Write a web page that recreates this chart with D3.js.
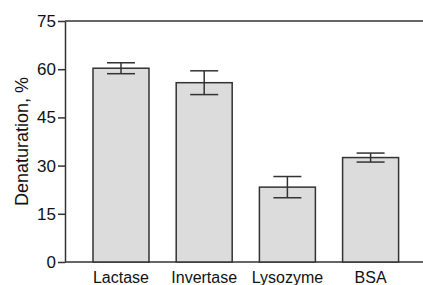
<!DOCTYPE html>
<html><head><meta charset="utf-8">
<script src="https://cdn.jsdelivr.net/npm/d3@7"></script>
<style>body{margin:0;background:#fff}svg{display:block}text{font-family:"Liberation Sans",Arial,sans-serif;fill:#111}</style>
</head><body>
<svg id="c" width="423" height="285"></svg>
<script>
const categories = ["Lactase","Invertase","Lysozyme","BSA"];
const values = [60.3, 55.8, 23.3, 32.5];
const errors = [1.7, 3.7, 3.3, 1.4];
const yTicks = [0, 15, 30, 45, 60, 75];

(function(){
const svg = d3.select("#c");
const mLeft = 65, mTop = 21, mBottom = 262;
const step = 83.2, pIn = 0.327, pOut = pIn/2;
const x0 = 93 - pOut*step;
const x = d3.scaleBand().domain(categories)
  .range([x0, x0 + step*(categories.length - pIn + 2*pOut)])
  .paddingInner(pIn).paddingOuter(pOut);
const y = d3.scaleLinear().domain([0,75]).range([mBottom, mTop]);

const ink = "#333";
const ya = svg.append("g").attr("transform",`translate(${mLeft},0)`)
  .call(d3.axisLeft(y).tickValues(yTicks).tickSize(7).tickPadding(2).tickSizeOuter(0));
ya.select(".domain").attr("stroke",ink).attr("stroke-width",1.5);
ya.selectAll(".tick line").attr("stroke",ink).attr("stroke-width",1.5);
ya.selectAll(".tick text").style("font-size","17px").style("font-family",'"Liberation Sans",Arial,sans-serif').attr("fill","#111");

[75, 0].forEach(v => svg.append("line").attr("x1",mLeft).attr("x2",423)
  .attr("y1",y(v)).attr("y2",y(v)).attr("stroke",ink).attr("stroke-width",1.5));

svg.selectAll("rect.bar").data(categories).join("rect").attr("class","bar")
  .attr("x",d=>x(d)).attr("width",x.bandwidth())
  .attr("y",(d,i)=>y(values[i])).attr("height",(d,i)=>y(0)-y(values[i]))
  .attr("fill","#dcdcdc").attr("stroke",ink).attr("stroke-width",1.5);

const cap = x.bandwidth()/2;
categories.forEach((c,i)=>{
  const cx = x(c)+x.bandwidth()/2;
  const g = svg.append("g").attr("stroke",ink).attr("stroke-width",1.5);
  g.append("line").attr("x1",cx).attr("x2",cx).attr("y1",y(values[i]+errors[i])).attr("y2",y(values[i]-errors[i]));
  [values[i]+errors[i], values[i]-errors[i]].forEach(v=>
    g.append("line").attr("x1",cx-cap/2).attr("x2",cx+cap/2).attr("y1",y(v)).attr("y2",y(v)));
});

svg.selectAll("text.xl").data(categories).join("text").attr("class","xl")
  .attr("x",d=>x(d)+x.bandwidth()/2).attr("y",283).attr("text-anchor","middle")
  .style("font-size","16px").text(d=>d);

svg.append("text").attr("transform",`translate(28,${(mTop+mBottom)/2}) rotate(-90)`)
  .attr("text-anchor","middle").style("font-size","18px").text("Denaturation, %");
})();
</script>
</body></html>
